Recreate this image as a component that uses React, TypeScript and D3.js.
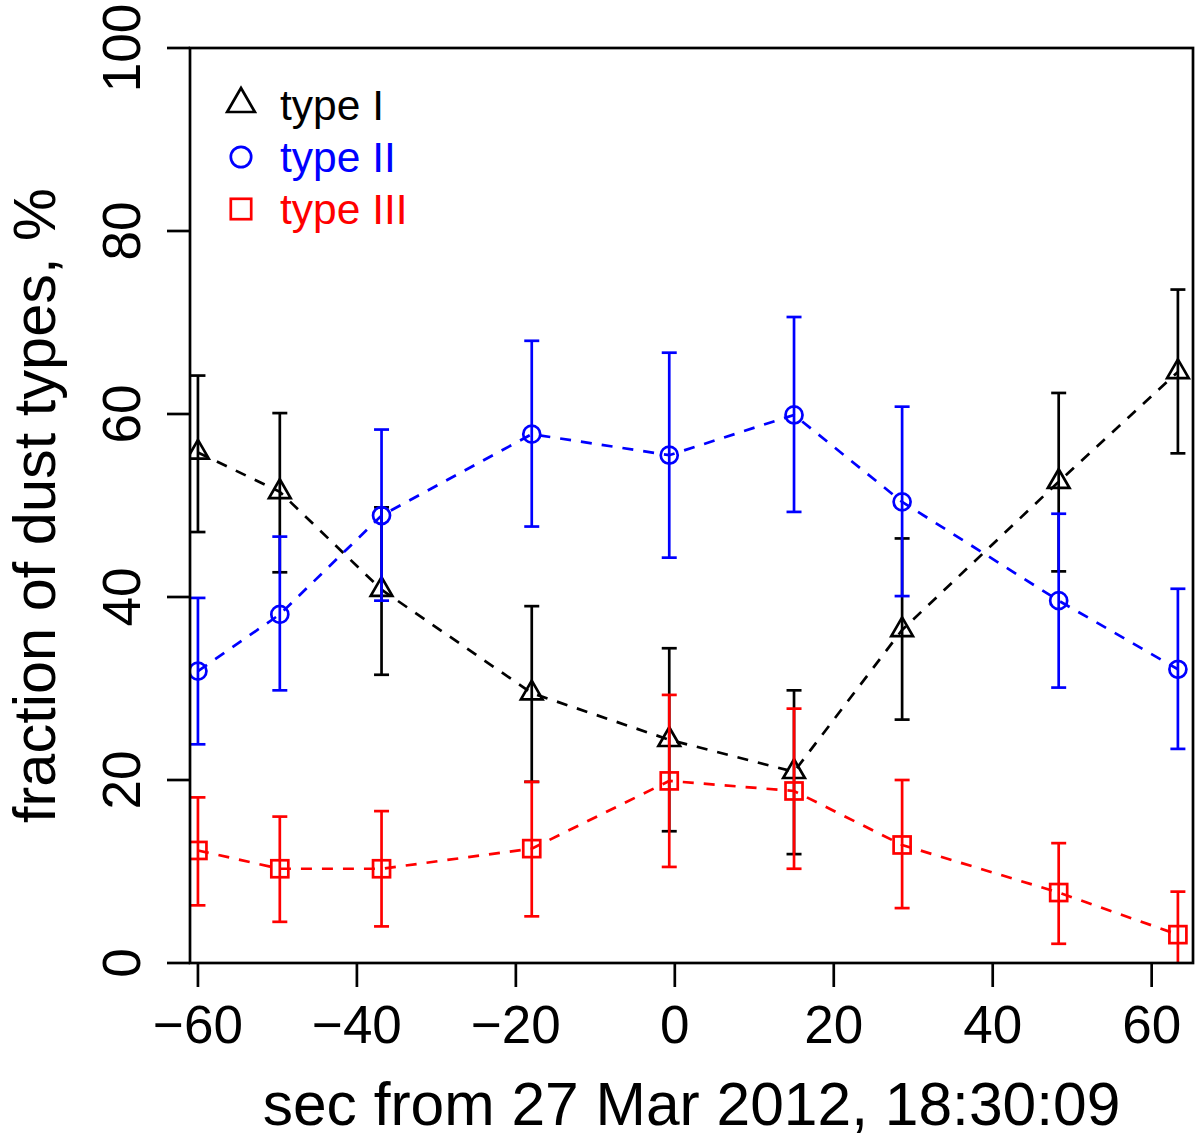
import React from "react";
import * as d3 from "d3";

const xs = [-60, -49.7, -36.9, -18.0, -0.7, 15.0, 28.6, 48.3, 63.3];

const type1 = [55.8, 51.5, 40.8, 29.5, 24.4, 20.9, 36.4, 52.6, 64.6];
const type1Lo = [47.1, 42.7, 31.5, 19.8, 14.4, 11.9, 26.6, 42.8, 55.7];
const type1Hi = [64.2, 60.1, 49.8, 39.0, 34.4, 29.8, 46.4, 62.3, 73.6];

const type2 = [31.9, 38.1, 48.9, 57.8, 55.5, 59.9, 50.4, 39.6, 32.1];
const type2Lo = [23.9, 29.8, 39.6, 47.7, 44.3, 49.3, 40.1, 30.1, 23.4];
const type2Hi = [39.9, 46.6, 58.3, 68.0, 66.7, 70.6, 60.8, 49.1, 40.9];

const type3 = [12.3, 10.3, 10.3, 12.5, 19.9, 18.8, 12.9, 7.7, 3.1];
const type3Lo = [6.3, 4.5, 4.0, 5.1, 10.5, 10.3, 6.0, 2.1, -1.5];
const type3Hi = [18.1, 16.0, 16.6, 19.8, 29.3, 27.8, 20.0, 13.1, 7.8];

const xTicks = [-60, -40, -20, 0, 20, 40, 60];
const yTicks = [0, 20, 40, 60, 80, 100];

const seriesNames = ["type I", "type II", "type III"];
const seriesColors = ["#000000", "#0000ff", "#ff0000"];
const seriesShapes = ["triangle", "circle", "square"];

const FONT = "'Liberation Sans', Arial, Helvetica, sans-serif";

function marker(shape: string, cx: number, cy: number, s: number, color: string, key?: string) {
  if (shape === "triangle") {
    const r = s;
    const h = (Math.sqrt(3) / 2) * r;
    const d = `M${cx},${cy - r}L${cx + h},${cy + r / 2}L${cx - h},${cy + r / 2}Z`;
    return <path key={key} d={d} fill="none" stroke={color} strokeWidth={2.7} />;
  }
  if (shape === "circle") {
    return <circle key={key} cx={cx} cy={cy} r={s * 0.68} fill="none" stroke={color} strokeWidth={2.7} />;
  }
  const a = s * 0.68;
  return <rect key={key} x={cx - a} y={cy - a} width={2 * a} height={2 * a} fill="none" stroke={color} strokeWidth={2.7} />;
}

export default function App() {
  const W = 1200;
  const H = 1143;
  const left = 190;
  const right = 1193;
  const top = 48;
  const bottom = 963;

  const x = d3.scaleLinear().domain([-61, 65.2]).range([left, right]);
  const y = d3.scaleLinear().domain([0, 100]).range([bottom, top]);

  const series = [
    { v: type1, lo: type1Lo, hi: type1Hi },
    { v: type2, lo: type2Lo, hi: type2Hi },
    { v: type3, lo: type3Lo, hi: type3Hi },
  ];

  const line = d3
    .line<number>()
    .x((_, i) => x(xs[i]))
    .y((d) => y(d));

  const cap = 7.5;
  const sizeInPlot = 12.5;
  const sizeLegend = 16;

  return (
    <div style={{ position: "absolute", left: 0, top: 0 }}>
      <svg width={W} height={H} style={{ display: "block", background: "#fff" }} fontFamily={FONT}>
        <defs>
          <clipPath id="plotclip">
            <rect x={left} y={top} width={right - left} height={bottom - top} />
          </clipPath>
        </defs>
        <g clipPath="url(#plotclip)">
          {series.map((s, si) => {
            const col = seriesColors[si];
            return (
              <g key={si}>
                <path d={line(s.v) || ""} fill="none" stroke={col} strokeWidth={2.7} strokeDasharray="11,10" />
                {s.v.map((_, i) => {
                  const cx = x(xs[i]);
                  const y0 = y(s.lo[i]);
                  const y1 = y(s.hi[i]);
                  return (
                    <g key={i} stroke={col} strokeWidth={2.7}>
                      <line x1={cx} x2={cx} y1={y0} y2={y1} />
                      <line x1={cx - cap} x2={cx + cap} y1={y0} y2={y0} />
                      <line x1={cx - cap} x2={cx + cap} y1={y1} y2={y1} />
                    </g>
                  );
                })}
                {s.v.map((v, i) => marker(seriesShapes[si], x(xs[i]), y(v), sizeInPlot, col, "m" + i))}
              </g>
            );
          })}
        </g>

        {/* box */}
        <rect x={left} y={top} width={right - left} height={bottom - top} fill="none" stroke="#000" strokeWidth={2.7} />

        {/* x axis ticks */}
        {xTicks.map((t) => (
          <g key={"xt" + t}>
            <line x1={x(t)} x2={x(t)} y1={bottom} y2={bottom + 24} stroke="#000" strokeWidth={2.7} />
            <text x={x(t)} y={1043} fontSize={53} textAnchor="middle" fill="#000">
              {t < 0 ? "\u2212" + Math.abs(t) : String(t)}
            </text>
          </g>
        ))}

        {/* y axis ticks */}
        {yTicks.map((t) => (
          <g key={"yt" + t}>
            <line x1={left - 23} x2={left} y1={y(t)} y2={y(t)} stroke="#000" strokeWidth={2.7} />
            <text
              transform={`translate(${140},${y(t)}) rotate(-90)`}
              fontSize={53}
              textAnchor="middle"
              fill="#000"
            >
              {String(t)}
            </text>
          </g>
        ))}

        {/* axis titles */}
        <text x={(left + right) / 2} y={1125} fontSize={60.5} textAnchor="middle" fill="#000">
          sec from 27 Mar 2012, 18:30:09
        </text>
        <text
          transform={`translate(${55},${(top + bottom) / 2}) rotate(-90)`}
          fontSize={59.5}
          textAnchor="middle"
          fill="#000"
        >
          fraction of dust types, %
        </text>

        {/* legend */}
        {seriesNames.map((name, i) => {
          const ly = 105 + i * 52;
          return (
            <g key={"lg" + i}>
              {marker(seriesShapes[i], 241, ly + (i === 0 ? -1 : 0), i === 0 ? sizeLegend : 15, seriesColors[i])}
              <text x={280} y={120 + i * 52} fontSize={42.5} fill={seriesColors[i]}>
                {name}
              </text>
            </g>
          );
        })}
      </svg>
    </div>
  );
}
